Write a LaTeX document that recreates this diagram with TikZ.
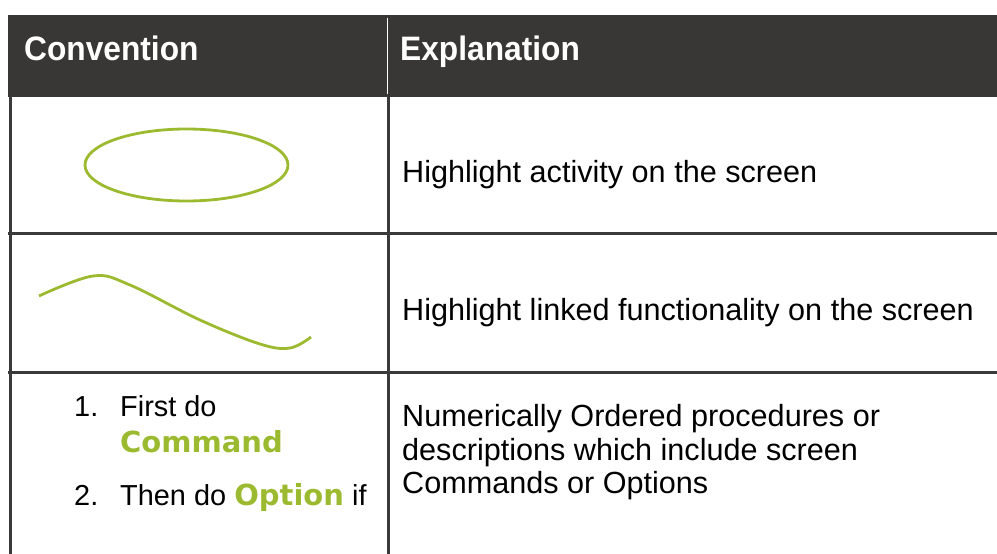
\documentclass[tikz,border=0pt]{standalone}
\usepackage{fontspec}
\usepackage{graphicx}
\setmainfont{Liberation Sans}
\newfontfamily\keyfont{DejaVu Sans}
\definecolor{headbg}{HTML}{393735}
\definecolor{rule}{HTML}{3A3A3A}
\definecolor{hl}{HTML}{9CBA30}
\newcommand\keyword[1]{{\fontsize{29}{34}\selectfont\keyfont\bfseries\color{hl}#1}}
\newcommand\tallhead[1]{\scalebox{1}[1.07]{#1}}
\begin{document}
\begin{tikzpicture}[x=1pt,y=-1pt,
  txt/.style={inner sep=0pt, anchor=base west, font=\fontsize{30.6}{36}\selectfont},
  steptxt/.style={inner sep=0pt, anchor=base west, font=\fontsize{28.9}{34}\selectfont},
  headtxt/.style={inner sep=0pt, anchor=base west, text=white, font=\fontsize{31.7}{38}\selectfont\bfseries},
  gridline/.style={draw=rule, line width=3pt},
  hlstroke/.style={draw=hl, line width=2.8pt}]
\useasboundingbox (0,0) rectangle (997,554);
% header band
\fill[headbg] (8,15) rectangle (997,97);
\draw[white, line width=1pt] (387,18) -- (387,94);
\node[headtxt] (hconv) at (24,60) {\tallhead{Convention}};
\node[headtxt] (hexpl) at (400,60) {\tallhead{Explanation}};
% table rules
\draw[gridline] (10,96) -- (10,554);
\draw[gridline] (388,96) -- (388,554);
\draw[gridline] (8,233) -- (997,233);
\draw[gridline] (8,372) -- (997,372);
% row 1: ellipse highlight
\draw[hlstroke] (186.5,165) ellipse [x radius=101.5, y radius=36];
\node[txt] (r1) at (402,182.7) {Highlight activity on the screen};
% row 2: curved highlight
\draw[hlstroke] plot[smooth, tension=0.6] coordinates {(39,296) (93,276) (130,285) (200,320) (260,344) (290,348) (311,337)};
\node[txt] (r2) at (402,320.7) {Highlight linked functionality on the screen};
% row 3: numbered steps
\node[steptxt] (n1) at (74,416.5) {1.};
\node[steptxt] (s1) at (120,416.5) {First do};
\node[steptxt] (s1b) at (120,452.5) {\keyword{Command}};
\node[steptxt] (n2) at (74,505) {2.};
\node[steptxt] (s2) at (120,505) {Then do \keyword{Option} if};
\node[txt] (r3a) at (402,426.7) {Numerically Ordered procedures or};
\node[txt] (r3b) at (402,460) {descriptions which include screen};
\node[txt] (r3c) at (402,493) {Commands or Options};
\end{tikzpicture}
\end{document}
